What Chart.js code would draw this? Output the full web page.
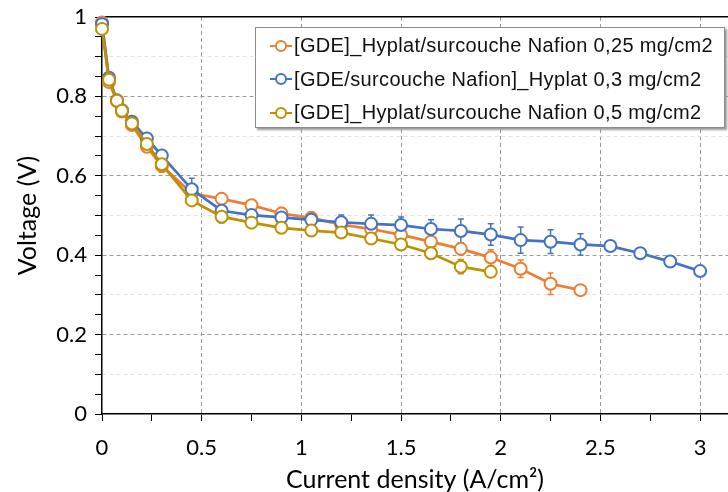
<!DOCTYPE html>
<html>
<head>
<meta charset="utf-8">
<script src="https://cdn.jsdelivr.net/npm/chart.js@4.4.1/dist/chart.umd.min.js"></script>
<style>
  body { margin: 0; background: #fff; }
  #wrap { position: relative; width: 728px; height: 492px; }
  #legend {
    position: absolute; left: 255px; top: 27px; width: 470px; height: 101px;
    background: #fff; border: 1px solid #8c8c8c; box-shadow: 2px 2px 2px #9a9a9a;
    font-family: "Liberation Sans", Arial, sans-serif; font-size: 20px; letter-spacing: 0.35px; color: #111;
    box-sizing: border-box; padding-top: 1px;
  }
  .row { height: 33.5px; display: flex; align-items: center; padding-left: 14px; }
  .mark { position: relative; width: 22px; height: 12px; margin-right: 2px; flex: none; }
  .mark .ln { position: absolute; left: 0; right: 0; top: 5px; height: 2px; }
  .mark .pt { position: absolute; left: 5px; top: 0; width: 8px; height: 8px;
    border: 2px solid; border-radius: 50%; background: #fff; }
</style>
</head>
<body>
<div id="wrap">
  <canvas id="chart" width="728" height="492"></canvas>
  <div id="legend"></div>
</div>
<script>
// Current density (A/cm2), shared by all series
const currentDensity = [0, 0.035, 0.075, 0.1, 0.15, 0.225, 0.3, 0.45, 0.6, 0.75, 0.9, 1.05,
  1.2, 1.35, 1.5, 1.65, 1.8, 1.95, 2.1, 2.25, 2.4, 2.55, 2.7, 2.85, 3.0];

const seriesLabels = [
  '[GDE]_Hyplat/surcouche Nafion 0,25 mg/cm2',
  '[GDE/surcouche Nafion]_Hyplat 0,3 mg/cm2',
  '[GDE]_Hyplat/surcouche Nafion 0,5 mg/cm2',
];
const seriesColors = ['#ED7D31', '#4472C4', '#BF9000'];

// Voltage (V)
const voltage025 = [0.986, 0.836, 0.788, 0.762, 0.728, 0.673, 0.625, 0.556, 0.542, 0.526, 0.505,
  0.494, 0.477, 0.466, 0.451, 0.434, 0.416, 0.394, 0.366, 0.328, 0.312];
const voltage03 = [0.982, 0.847, 0.79, 0.765, 0.736, 0.694, 0.651, 0.566, 0.512, 0.501, 0.495,
  0.489, 0.483, 0.479, 0.476, 0.466, 0.461, 0.452, 0.438, 0.434, 0.427, 0.423, 0.405, 0.384, 0.36];
const voltage05 = [0.97, 0.842, 0.789, 0.764, 0.732, 0.68, 0.629, 0.538, 0.497, 0.482, 0.469,
  0.462, 0.457, 0.442, 0.427, 0.405, 0.371, 0.358];

// Error bars (+/- V), null = no bar
const error025 = [null, null, null, null, null, null, null, null, null, null, 0.015,
  0.012, 0.012, null, null, null, 0.015, 0.02, 0.022, 0.027, null];
const error03 = [null, null, null, null, null, null, null, 0.028, 0.03, null, null,
  0.02, 0.018, 0.022, 0.02, 0.023, 0.03, 0.027, 0.033, 0.03, 0.027, null, null, null, null];
const error05 = [null, null, null, null, null, null, 0.02, null, null, null, null,
  null, null, 0.01, null, 0.015, 0.018, null];

// Axis ticks
const xTicks = [0, 0.25, 0.5, 0.75, 1, 1.25, 1.5, 1.75, 2, 2.25, 2.5, 2.75, 3];
const xTickLabels = ['0', '', '0.5', '', '1', '', '1.5', '', '2', '', '2.5', '', '3'];
const yTicks = [0, 0.05, 0.1, 0.15, 0.2, 0.25, 0.3, 0.35, 0.4, 0.45, 0.5, 0.55,
  0.6, 0.65, 0.7, 0.75, 0.8, 0.85, 0.9, 0.95, 1];
const yTickLabels = ['0', '', '', '', '0.2', '', '', '', '0.4', '', '', '', '0.6', '', '', '',
  '0.8', '', '', '', '1'];

const voltages = [voltage025, voltage03, voltage05];
const errors = [error025, error03, error05];

// error bars drawn from the scales, under the markers
const errorBars = {
  id: 'errorBars',
  beforeDatasetsDraw(chart) {
    const { ctx, scales: { x, y } } = chart;
    ctx.save();
    ctx.lineWidth = 1.5;
    errors.forEach((errs, s) => {
      ctx.strokeStyle = seriesColors[s];
      errs.forEach((e, i) => {
        if (e == null) return;
        const px = x.getPixelForValue(currentDensity[i]);
        const top = y.getPixelForValue(voltages[s][i] + e);
        const bot = y.getPixelForValue(voltages[s][i] - e);
        ctx.beginPath();
        ctx.moveTo(px, top); ctx.lineTo(px, bot);
        ctx.moveTo(px - 3, top); ctx.lineTo(px + 3, top);
        ctx.moveTo(px - 3, bot); ctx.lineTo(px + 3, bot);
        ctx.stroke();
      });
    });
    ctx.restore();
  },
};

const near = (v, step) => Math.abs(v / step - Math.round(v / step)) < 1e-6;

const datasets = voltages.map((vals, s) => ({
  label: seriesLabels[s],
  data: vals.map((v, i) => ({ x: currentDensity[i], y: v })),
  borderColor: seriesColors[s],
  backgroundColor: '#fff',
  borderWidth: 2.75,
  pointRadius: 6,
  pointBorderWidth: 2,
  pointBackgroundColor: '#fff',
  tension: 0,
  clip: false,
  order: 3 - s,
}));

const tickFont = { family: 'Lato', size: 22, lineHeight: 0.8 };
const titleFont = { family: 'Lato', size: 25, lineHeight: 1 };

new Chart(document.getElementById('chart'), {
  type: 'line',
  data: { datasets },
  options: {
    responsive: false,
    animation: false,
    layout: { padding: 0, autoPadding: false },
    plugins: { legend: { display: false }, tooltip: { enabled: false } },
    scales: {
      x: {
        type: 'linear',
        min: 0,
        max: 3.14,
        afterBuildTicks: (scale) => { scale.ticks = xTicks.map((value) => ({ value })); },
        afterFit: (scale) => { scale.height = 78; },
        ticks: {
          color: '#000',
          font: tickFont,
          padding: 18,
          maxRotation: 0,
          autoSkip: false,
          callback: (v, i) => xTickLabels[i],
        },
        grid: {
          color: (c) => (c.tick && c.tick.value > 0 && near(c.tick.value, 0.5) ? '#9a9a9a' : 'rgba(0,0,0,0)'),
          tickColor: '#000',
          tickLength: 7,
        },
        border: { color: '#000', width: 1.5, dash: [4, 3] },
        title: { display: true, text: 'Current density (A/cm²)', color: '#000', font: titleFont, padding: { top: 0, bottom: 0 } },
      },
      x2: {
        type: 'linear',
        position: 'top',
        min: 0,
        max: 3.14,
        afterFit: (scale) => { scale.height = 17; },
        ticks: { display: false },
        grid: { display: false, drawTicks: false },
        border: { color: '#000', width: 1.5 },
      },
      y: {
        min: 0,
        max: 1,
        afterBuildTicks: (scale) => { scale.ticks = yTicks.map((value) => ({ value })); },
        afterFit: (scale) => { scale.width = 102; },
        ticks: {
          color: '#000',
          font: tickFont,
          padding: 8,
          autoSkip: false,
          callback: (v, i) => yTickLabels[i],
        },
        grid: {
          color: (c) => {
            const v = c.tick ? c.tick.value : 0;
            if (v <= 0 || v >= 1) return 'rgba(0,0,0,0)';
            if (near(v, 0.2)) return '#9a9a9a';
            if (near(v, 0.1)) return '#e2e2e2';
            return 'rgba(0,0,0,0)';
          },
          tickColor: '#000',
          tickLength: 7,
        },
        border: { color: '#000', width: 1.5, dash: [4, 3] },
        title: { display: true, text: 'Voltage (V)', color: '#000', font: titleFont, padding: { top: 15, bottom: 0 } },
      },
    },
  },
  plugins: [errorBars],
});

// legend drawn as html, line + open circle like the original
const legend = document.getElementById('legend');
seriesLabels.forEach((label, s) => {
  const row = document.createElement('div');
  row.className = 'row';
  row.innerHTML = `<span class="mark"><span class="ln" style="background:${seriesColors[s]}"></span>` +
    `<span class="pt" style="border-color:${seriesColors[s]}"></span></span><span>${label}</span>`;
  legend.appendChild(row);
});
</script>
</body>
</html>
